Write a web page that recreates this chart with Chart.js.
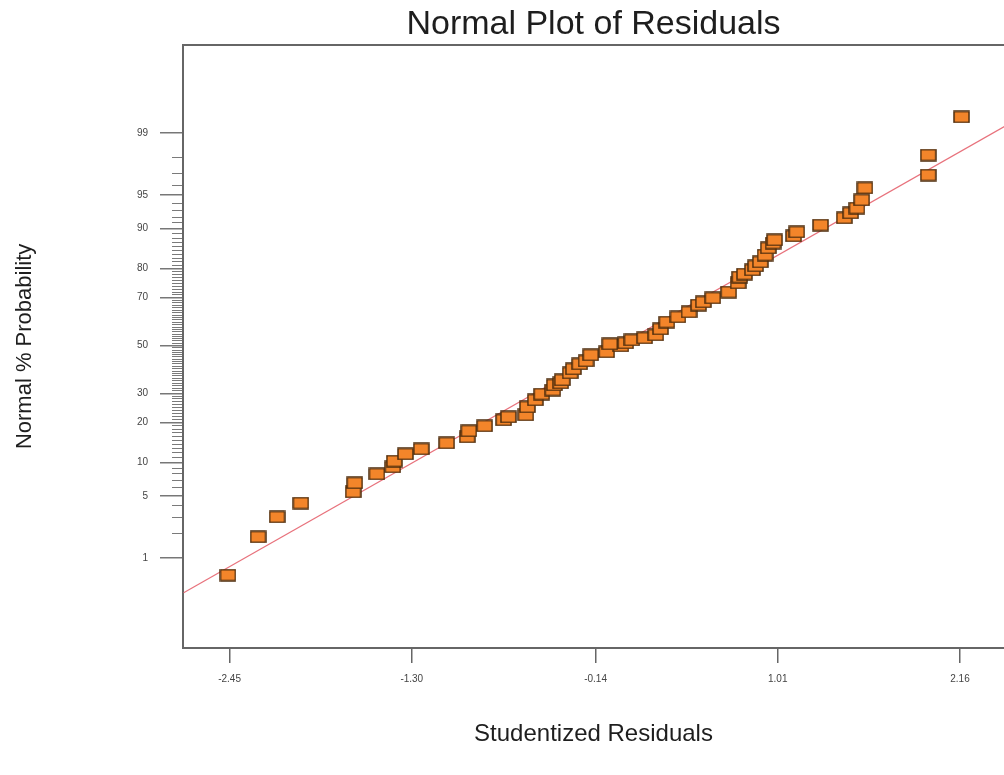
<!DOCTYPE html>
<html>
<head>
<meta charset="utf-8">
<title>Normal Plot of Residuals</title>
<script src="https://cdn.jsdelivr.net/npm/chart.js@4.4.1/dist/chart.umd.min.js"></script>
<style>
    html, body { margin: 0; padding: 0; background: #fff; overflow: hidden; }
    #wrap { position: absolute; left: 0; top: 0; width: 1013px; height: 775px; }
</style>
</head>
<body>
<div id="wrap"><canvas id="chart" width="1013" height="775"></canvas></div>
<script>
// Studentized residuals (x) and their normal % probability (y).
const residuals = [
    -2.46, -2.27, -2.15, -2.00, -1.67, -1.66, -1.52, -1.42, -1.41, -1.34,
    -1.24, -1.08, -0.95, -0.94, -0.84, -0.72, -0.69, -0.58, -0.57, -0.52,
    -0.48, -0.41, -0.40, -0.36, -0.35, -0.30, -0.28, -0.24, -0.20, -0.17,
    -0.07, 0.02, -0.05, 0.05, 0.09, 0.17, 0.24, 0.27, 0.31, 0.38,
    0.45, 0.51, 0.54, 0.60, 0.70, 0.76, 0.77, 0.80, 0.85, 0.87,
    0.90, 0.93, 0.95, 0.98, 0.99, 1.11, 1.13, 1.28, 1.43, 1.47,
    1.51, 1.54, 1.56, 1.96, 1.96, 2.17
];
const probabilities = [
    0.60, 1.81, 3.03, 4.24, 5.45, 6.63, 7.99, 9.19, 10.31, 11.76,
    12.88, 14.30, 15.84, 17.49, 18.92, 20.75, 21.71, 22.36, 25.05, 27.56,
    29.77, 31.31, 33.29, 34.08, 35.30, 38.17, 39.86, 41.99, 43.27, 45.86,
    47.17, 49.78, 50.65, 51.09, 52.40, 53.27, 54.57, 57.17, 60.14, 62.25,
    64.31, 67.11, 68.30, 69.84, 72.08, 75.30, 77.31, 78.29, 79.56, 80.78,
    81.96, 83.89, 85.70, 86.89, 87.58, 88.46, 89.29, 90.63, 91.85, 92.65,
    93.37, 94.43, 95.76, 96.89, 98.14, 99.38
];

// Red reference line (two end points).
const fitLineX = [-2.74, 2.44];
const fitLineP = [0.34, 99.17];

// Axis ticks.
const xTickValues = [-2.45, -1.30, -0.14, 1.01, 2.16];
const majorPct = [1, 5, 10, 20, 30, 50, 70, 80, 90, 95, 99];
const minorPct = [2, 3, 4, 6, 7, 8, 9, 11, 12, 13, 14, 15, 16, 17, 18, 19,
    21, 22, 23, 24, 25, 26, 27, 28, 29, 31, 32, 33, 34, 35, 36, 37, 38, 39,
    40, 41, 42, 43, 44, 45, 46, 47, 48, 49, 51, 52, 53, 54, 55, 56, 57, 58, 59,
    60, 61, 62, 63, 64, 65, 66, 67, 68, 69, 71, 72, 73, 74, 75, 76, 77, 78, 79,
    81, 82, 83, 84, 85, 86, 87, 88, 89, 91, 92, 93, 94, 96, 97, 98];

// Axis ranges (x in residuals, y in normal scores).
const xMin = -2.744, xMax = 2.438;
const yMin = -3.31, yMax = 3.29;

// Inverse normal CDF (Acklam), used for the probability axis.
function probit(p) {
    const a = [-3.969683028665376e+01, 2.209460984245205e+02, -2.759285104469687e+02,
        1.383577518672690e+02, -3.066479806614716e+01, 2.506628277459239e+00];
    const b = [-5.447609879822406e+01, 1.615858368580409e+02, -1.556989798598866e+02,
        6.680131188771972e+01, -1.328068155288572e+01];
    const c = [-7.784894002430293e-03, -3.223964580411365e-01, -2.400758277161838e+00,
        -2.549732539343734e+00, 4.374664141464968e+00, 2.938163982698783e+00];
    const d = [7.784695709041462e-03, 3.224671290700398e-01, 2.445134137142996e+00,
        3.754408661907416e+00];
    const pl = 0.02425, ph = 1 - pl;
    let q, r;
    if (p < pl) {
        q = Math.sqrt(-2 * Math.log(p));
        return (((((c[0] * q + c[1]) * q + c[2]) * q + c[3]) * q + c[4]) * q + c[5]) /
            ((((d[0] * q + d[1]) * q + d[2]) * q + d[3]) * q + 1);
    }
    if (p > ph) {
        q = Math.sqrt(-2 * Math.log(1 - p));
        return -(((((c[0] * q + c[1]) * q + c[2]) * q + c[3]) * q + c[4]) * q + c[5]) /
            ((((d[0] * q + d[1]) * q + d[2]) * q + d[3]) * q + 1);
    }
    q = p - 0.5;
    r = q * q;
    return (((((a[0] * r + a[1]) * r + a[2]) * r + a[3]) * r + a[4]) * r + a[5]) * q /
        (((((b[0] * r + b[1]) * r + b[2]) * r + b[3]) * r + b[4]) * r + 1);
}

// Orange rectangle marker.
const marker = document.createElement('canvas');
marker.width = 17;
marker.height = 13;
(function () {
    const m = marker.getContext('2d');
    m.fillStyle = '#f3852a';
    m.fillRect(1, 1, 15, 11);
    m.strokeStyle = '#4d2c0c';
    m.lineWidth = 1.5;
    m.strokeRect(1, 1, 15, 11);
})();

const points = residuals.map((x, i) => ({ x: x, y: probit(probabilities[i] / 100) }));
const linePoints = fitLineX.map((x, i) => ({ x: x, y: probit(fitLineP[i] / 100) }));

const FONT = "'Liberation Sans', Arial, sans-serif";

new Chart(document.getElementById('chart'), {
    type: 'scatter',
    data: {
        datasets: [
            {
                data: points,
                yAxisID: 'y',
                xAxisID: 'x',
                pointStyle: marker,
                pointRadius: 8,
                order: 0
            },
            {
                data: linePoints,
                yAxisID: 'y',
                xAxisID: 'x',
                showLine: true,
                borderColor: '#e8727c',
                borderWidth: 1.2,
                pointRadius: 0,
                order: 1
            }
        ]
    },
    options: {
        responsive: false,
        animation: false,
        layout: { padding: 0 },
        plugins: {
            legend: { display: false },
            tooltip: { enabled: false },
            title: {
                display: true,
                text: 'Normal Plot of Residuals',
                fullSize: false,
                color: '#1e1e1e',
                font: { family: FONT, size: 34, weight: 'normal' },
                padding: { top: 4, bottom: 0 }
            }
        },
        scales: {
            x: {
                type: 'linear',
                position: 'bottom',
                min: xMin,
                max: xMax,
                afterBuildTicks: function (scale) {
                    scale.ticks = xTickValues.map(v => ({ value: v }));
                },
                afterFit: function (scale) { scale.height = 127; },
                ticks: {
                    color: '#444',
                    padding: 10,
                    font: { family: FONT, size: 10 },
                    callback: v => v.toFixed(2)
                },
                grid: { drawOnChartArea: false, tickLength: 15, color: '#666', lineWidth: 1.5 },
                border: { color: '#666', width: 2 },
                title: {
                    display: true,
                    text: 'Studentized Residuals',
                    color: '#1e1e1e',
                    font: { family: FONT, size: 24 },
                    padding: { top: 0, bottom: 26 }
                }
            },
            // top edge of the frame
            xTop: {
                type: 'linear',
                axis: 'x',
                position: { y: yMax },
                min: xMin,
                max: xMax,
                ticks: { display: false },
                grid: { drawOnChartArea: false, drawTicks: false },
                border: { color: '#666', width: 2 }
            },
            y: {
                type: 'linear',
                position: 'left',
                min: yMin,
                max: yMax,
                afterBuildTicks: function (scale) {
                    scale.ticks = majorPct.map(p => ({ value: probit(p / 100) }));
                },
                afterFit: function (scale) { scale.width = 183; },
                ticks: {
                    color: '#444',
                    padding: 12,
                    font: { family: FONT, size: 10 },
                    callback: (v, i) => String(majorPct[i])
                },
                grid: { drawOnChartArea: false, tickLength: 23, color: '#777', lineWidth: 1.5 },
                border: { color: '#666', width: 2 },
                title: {
                    display: true,
                    text: 'Normal % Probability',
                    color: '#1e1e1e',
                    font: { family: FONT, size: 22 },
                    padding: { top: 12, bottom: 0 }
                }
            },
            // short minor ticks along the probability axis
            yMinor: {
                type: 'linear',
                axis: 'y',
                position: { x: xMin },
                min: yMin,
                max: yMax,
                afterBuildTicks: function (scale) {
                    scale.ticks = minorPct.map(p => ({ value: probit(p / 100) }));
                },
                ticks: { display: false, autoSkip: false },
                grid: { drawOnChartArea: false, tickLength: 11, color: '#7a7a7a', lineWidth: 1 },
                border: { display: false }
            }
        }
    }
});
</script>
</body>
</html>
